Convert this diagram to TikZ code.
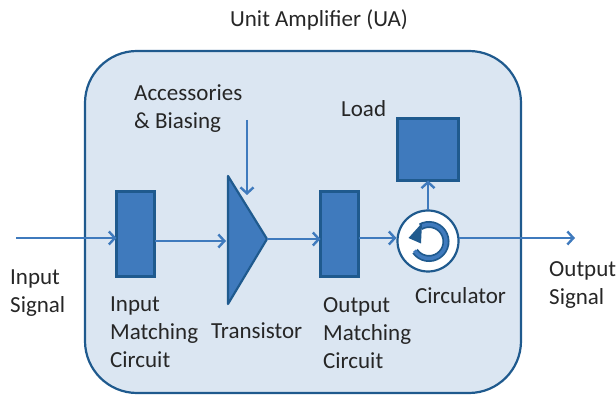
\documentclass[tikz,border=0pt]{standalone}
\usepackage{fontspec}
\setmainfont{Carlito}
\usetikzlibrary{arrows.meta,calc}
\definecolor{panelfill}{HTML}{DBE6F2}
\definecolor{panelline}{HTML}{1F5A8E}
\definecolor{blockfill}{HTML}{3F7ABD}
\definecolor{linkblue}{HTML}{3F7ABD}
\definecolor{labeltext}{HTML}{262626}
\tikzset{
  block/.style={draw=panelline,fill=blockfill,line width=2.2pt,minimum width=38pt,minimum height=85pt,inner sep=0pt,outer sep=0pt},
  link/.style={draw=linkblue,line width=2.6pt,-{Straight Barb[length=6pt,width=13pt,line width=2.4pt]}},
  lbl/.style={text=labeltext,font=\fontsize{23}{28}\selectfont,inner sep=0pt,align=left}
}
\begin{document}
\begin{tikzpicture}[x=1pt,y=-1pt]
\useasboundingbox (0,0) rectangle (616,395);
\node[draw=panelline,fill=panelfill,line width=2.2pt,rounded corners=52pt,minimum width=436pt,minimum height=342pt,inner sep=0pt,outer sep=0pt] (panel) at (303,222) {};
\node[block] (inbox) at (135.5,234) {};
\node[block] (outbox) at (339.5,234) {};
\node[block,minimum width=61pt,minimum height=62pt] (load) at (428,149.5) {};
\coordinate (tt) at (228,176);
\coordinate (tb) at (228,304);
\coordinate (tr) at (267,239);
\draw[draw=panelline,fill=blockfill,line width=2.2pt,line join=round] (tt) -- (tr) -- (tb) -- cycle;
\node[circle,draw=panelline,fill=white,line width=2.2pt,minimum size=61pt,inner sep=0pt,outer sep=0pt] (circ) at (428,241) {};
% circular arrow symbol
\coordinate (ringc) at (429,241.5);
\draw[draw=panelline,line width=7pt] ($(ringc)+(215:17pt)$) arc[start angle=215,delta angle=265,radius=17pt];
\draw[draw=blockfill,line width=3.5pt] ($(ringc)+(212:17pt)$) arc[start angle=212,delta angle=268,radius=17pt];
\fill[panelline] (408.5,238) -- (422,223) -- (421,243.5) -- cycle;
% connectors
\coordinate (instart) at (16,238);
\coordinate (outend) at (575,238);
\coordinate (accstart) at (247,120);
\coordinate (accend) at (247,195);
\draw[link] (instart) -- (inbox.west |- instart);
\draw[link] ($(inbox.east)+(0,7)$) -- ($(tt |- inbox.east)+(-2,7)$);
\draw[link] (tr) -- (outbox.west |- tr);
\draw[link] ($(outbox.east)+(0,4)$) -- ($(circ.west)+(-1,-3)$);
\draw[link] ($(circ.east)+(0,-3)$) -- (outend);
\draw[link] (circ.north) -- (load.south);
\draw[link] (accstart) -- (accend);
% labels
\node[lbl] (title) at (319,20) {Unit Amplifier (UA)};
\node[lbl,anchor=north west] (lacc) at (134,84) {Accessories\\\& Biasing};
\node[lbl,anchor=west] (lload) at (341,109) {Load};
\node[lbl,anchor=north west] (lin) at (10,270) {Input\\Signal};
\node[lbl,anchor=north west] (lim) at (110,297) {Input\\Matching\\Circuit};
\node[lbl,anchor=west] (ltr) at (211,331) {Transistor};
\node[lbl,anchor=north west] (lom) at (323,297) {Output\\Matching\\Circuit};
\node[lbl,anchor=west] (lcirc) at (415,296) {Circulator};
\node[lbl,anchor=north west] (lout) at (549,261) {Output\\Signal};
\end{tikzpicture}
\end{document}
